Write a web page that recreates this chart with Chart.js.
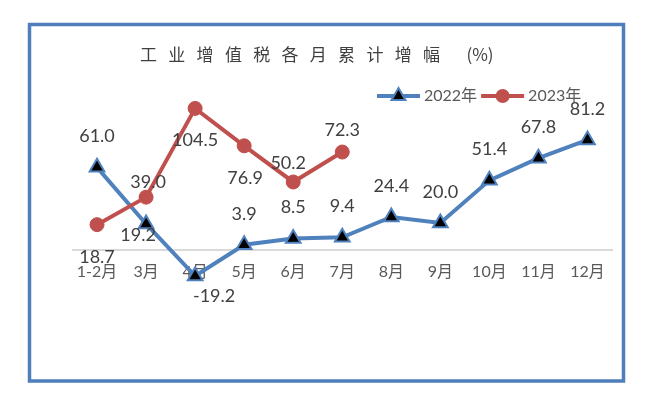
<!DOCTYPE html>
<html>
<head>
<meta charset="utf-8">
<script src="https://cdn.jsdelivr.net/npm/chart.js@4/dist/chart.umd.min.js"></script>
<style>
  html, body { margin: 0; padding: 0; background: #fff; }
  #wrap { width: 651px; height: 396px; }
</style>
</head>
<body>
<div id="wrap"><canvas id="chart" width="651" height="396"></canvas></div>
<script>
const months = ["1-2月", "3月", "4月", "5月", "6月", "7月", "8月", "9月", "10月", "11月", "12月"];
const growth2022 = [61.0, 19.2, -19.2, 3.9, 8.5, 9.4, 24.4, 20.0, 51.4, 67.8, 81.2];
const growth2023 = [18.7, 39.0, 104.5, 76.9, 50.2, 72.3];
const seriesNames = ["2022年", "2023年"];
const titleChars = "工业增值税各月累计增幅";
const titleUnit = "(%)";

// where each value label sits relative to its point (px)
const labelOffsets2022 = [[0, -31], [-8, 11], [19, 20], [0, -31], [0, -31], [0, -31], [0, -31], [0, -31], [0, -31], [0, -31], [0, -31]];
const labelOffsets2023 = [[0, 33], [2, -15], [0, 32], [1, 32], [-5, -19], [0, -22]];

const BLUE = "#4F81BD";
const RED = "#C0504D";
const numFont = 'Lato, "Noto Sans CJK SC", sans-serif';

function drawTri(ctx, x, y, r) {
  ctx.beginPath();
  ctx.moveTo(x, y - r);
  ctx.lineTo(x + r * 0.866, y + r / 2);
  ctx.lineTo(x - r * 0.866, y + r / 2);
  ctx.closePath();
  ctx.fillStyle = "#000";
  ctx.fill();
  ctx.lineWidth = 2;
  ctx.strokeStyle = BLUE;
  ctx.stroke();
}

const decorPlugin = {
  id: "decor",
  beforeDraw(chart) {
    const ctx = chart.ctx;
    ctx.save();
    ctx.fillStyle = "#fff";
    ctx.fillRect(0, 0, chart.width, chart.height);
    ctx.restore();
  },
  afterDraw(chart) {
    const ctx = chart.ctx;
    ctx.save();

    // frame
    ctx.strokeStyle = "#4F7FBA";
    ctx.lineWidth = 3.5;
    ctx.strokeRect(29.5, 24.5, 594, 356.5);

    // title, spaced out
    ctx.fillStyle = "#3f3f3f";
    ctx.font = '17px "Noto Sans CJK SC"';
    ctx.textAlign = "center";
    ctx.textBaseline = "middle";
    for (let i = 0; i < titleChars.length; i++) {
      ctx.fillText(titleChars[i], 148.5 + i * 28.3, 55);
    }
    ctx.fillText(titleUnit, 480, 55);

    // legend
    ctx.font = '16px ' + numFont;
    ctx.textAlign = "left";
    let x = 377;
    const ly = 96;
    seriesNames.forEach((name, i) => {
      ctx.strokeStyle = i === 0 ? BLUE : RED;
      ctx.lineWidth = 4;
      ctx.beginPath();
      ctx.moveTo(x, ly);
      ctx.lineTo(x + 43, ly);
      ctx.stroke();
      if (i === 0) {
        drawTri(ctx, x + 21.5, ly, 8);
      } else {
        ctx.beginPath();
        ctx.arc(x + 21.5, ly, 7, 0, Math.PI * 2);
        ctx.fillStyle = RED;
        ctx.fill();
      }
      ctx.fillStyle = "#595959";
      ctx.fillText(name, x + 47, ly);
      x += 47 + ctx.measureText(name).width + 4;
    });

    // value labels
    ctx.font = '18px ' + numFont;
    ctx.fillStyle = "#404040";
    ctx.textAlign = "center";
    chart.data.datasets.forEach((ds, i) => {
      const meta = chart.getDatasetMeta(i);
      meta.data.forEach((pt, j) => {
        const off = ds.labelOffsets[j];
        ctx.fillText(ds.data[j].toFixed(1), pt.x + off[0], pt.y + off[1]);
      });
    });
    ctx.restore();
  }
};

const ctx = document.getElementById("chart").getContext("2d");
new Chart(ctx, {
  type: "line",
  data: {
    labels: months,
    datasets: [
      {
        label: seriesNames[0],
        data: growth2022,
        labelOffsets: labelOffsets2022,
        borderColor: BLUE,
        borderWidth: 4,
        pointStyle: "triangle",
        pointRadius: 8.5,
        pointBackgroundColor: "#000",
        pointBorderColor: BLUE,
        pointBorderWidth: 2,
        tension: 0,
        order: 1,
      },
      {
        label: seriesNames[1],
        data: growth2023,
        labelOffsets: labelOffsets2023,
        borderColor: RED,
        borderWidth: 4,
        pointStyle: "circle",
        pointRadius: 7,
        pointBackgroundColor: RED,
        pointBorderColor: RED,
        pointBorderWidth: 1,
        tension: 0,
        order: 0,
      },
    ],
  },
  options: {
    responsive: false,
    animation: false,
    devicePixelRatio: 1,
    layout: { padding: { left: 72.5, right: 39, top: 87.4, bottom: 91.8 } },
    scales: {
      x: {
        offset: true,
        position: { y: 0 },
        grid: { display: false, drawTicks: false },
        border: { display: true, color: "#D9D9D9", width: 2 },
        ticks: {
          color: "#595959",
          font: { family: numFont, size: 16 },
          padding: 12,
          maxRotation: 0,
          autoSkip: false,
        },
      },
      y: { display: false, min: -40, max: 120 },
    },
    plugins: {
      legend: { display: false },
      title: { display: false },
      tooltip: { enabled: false },
    },
  },
  plugins: [decorPlugin],
});
</script>
</body>
</html>
